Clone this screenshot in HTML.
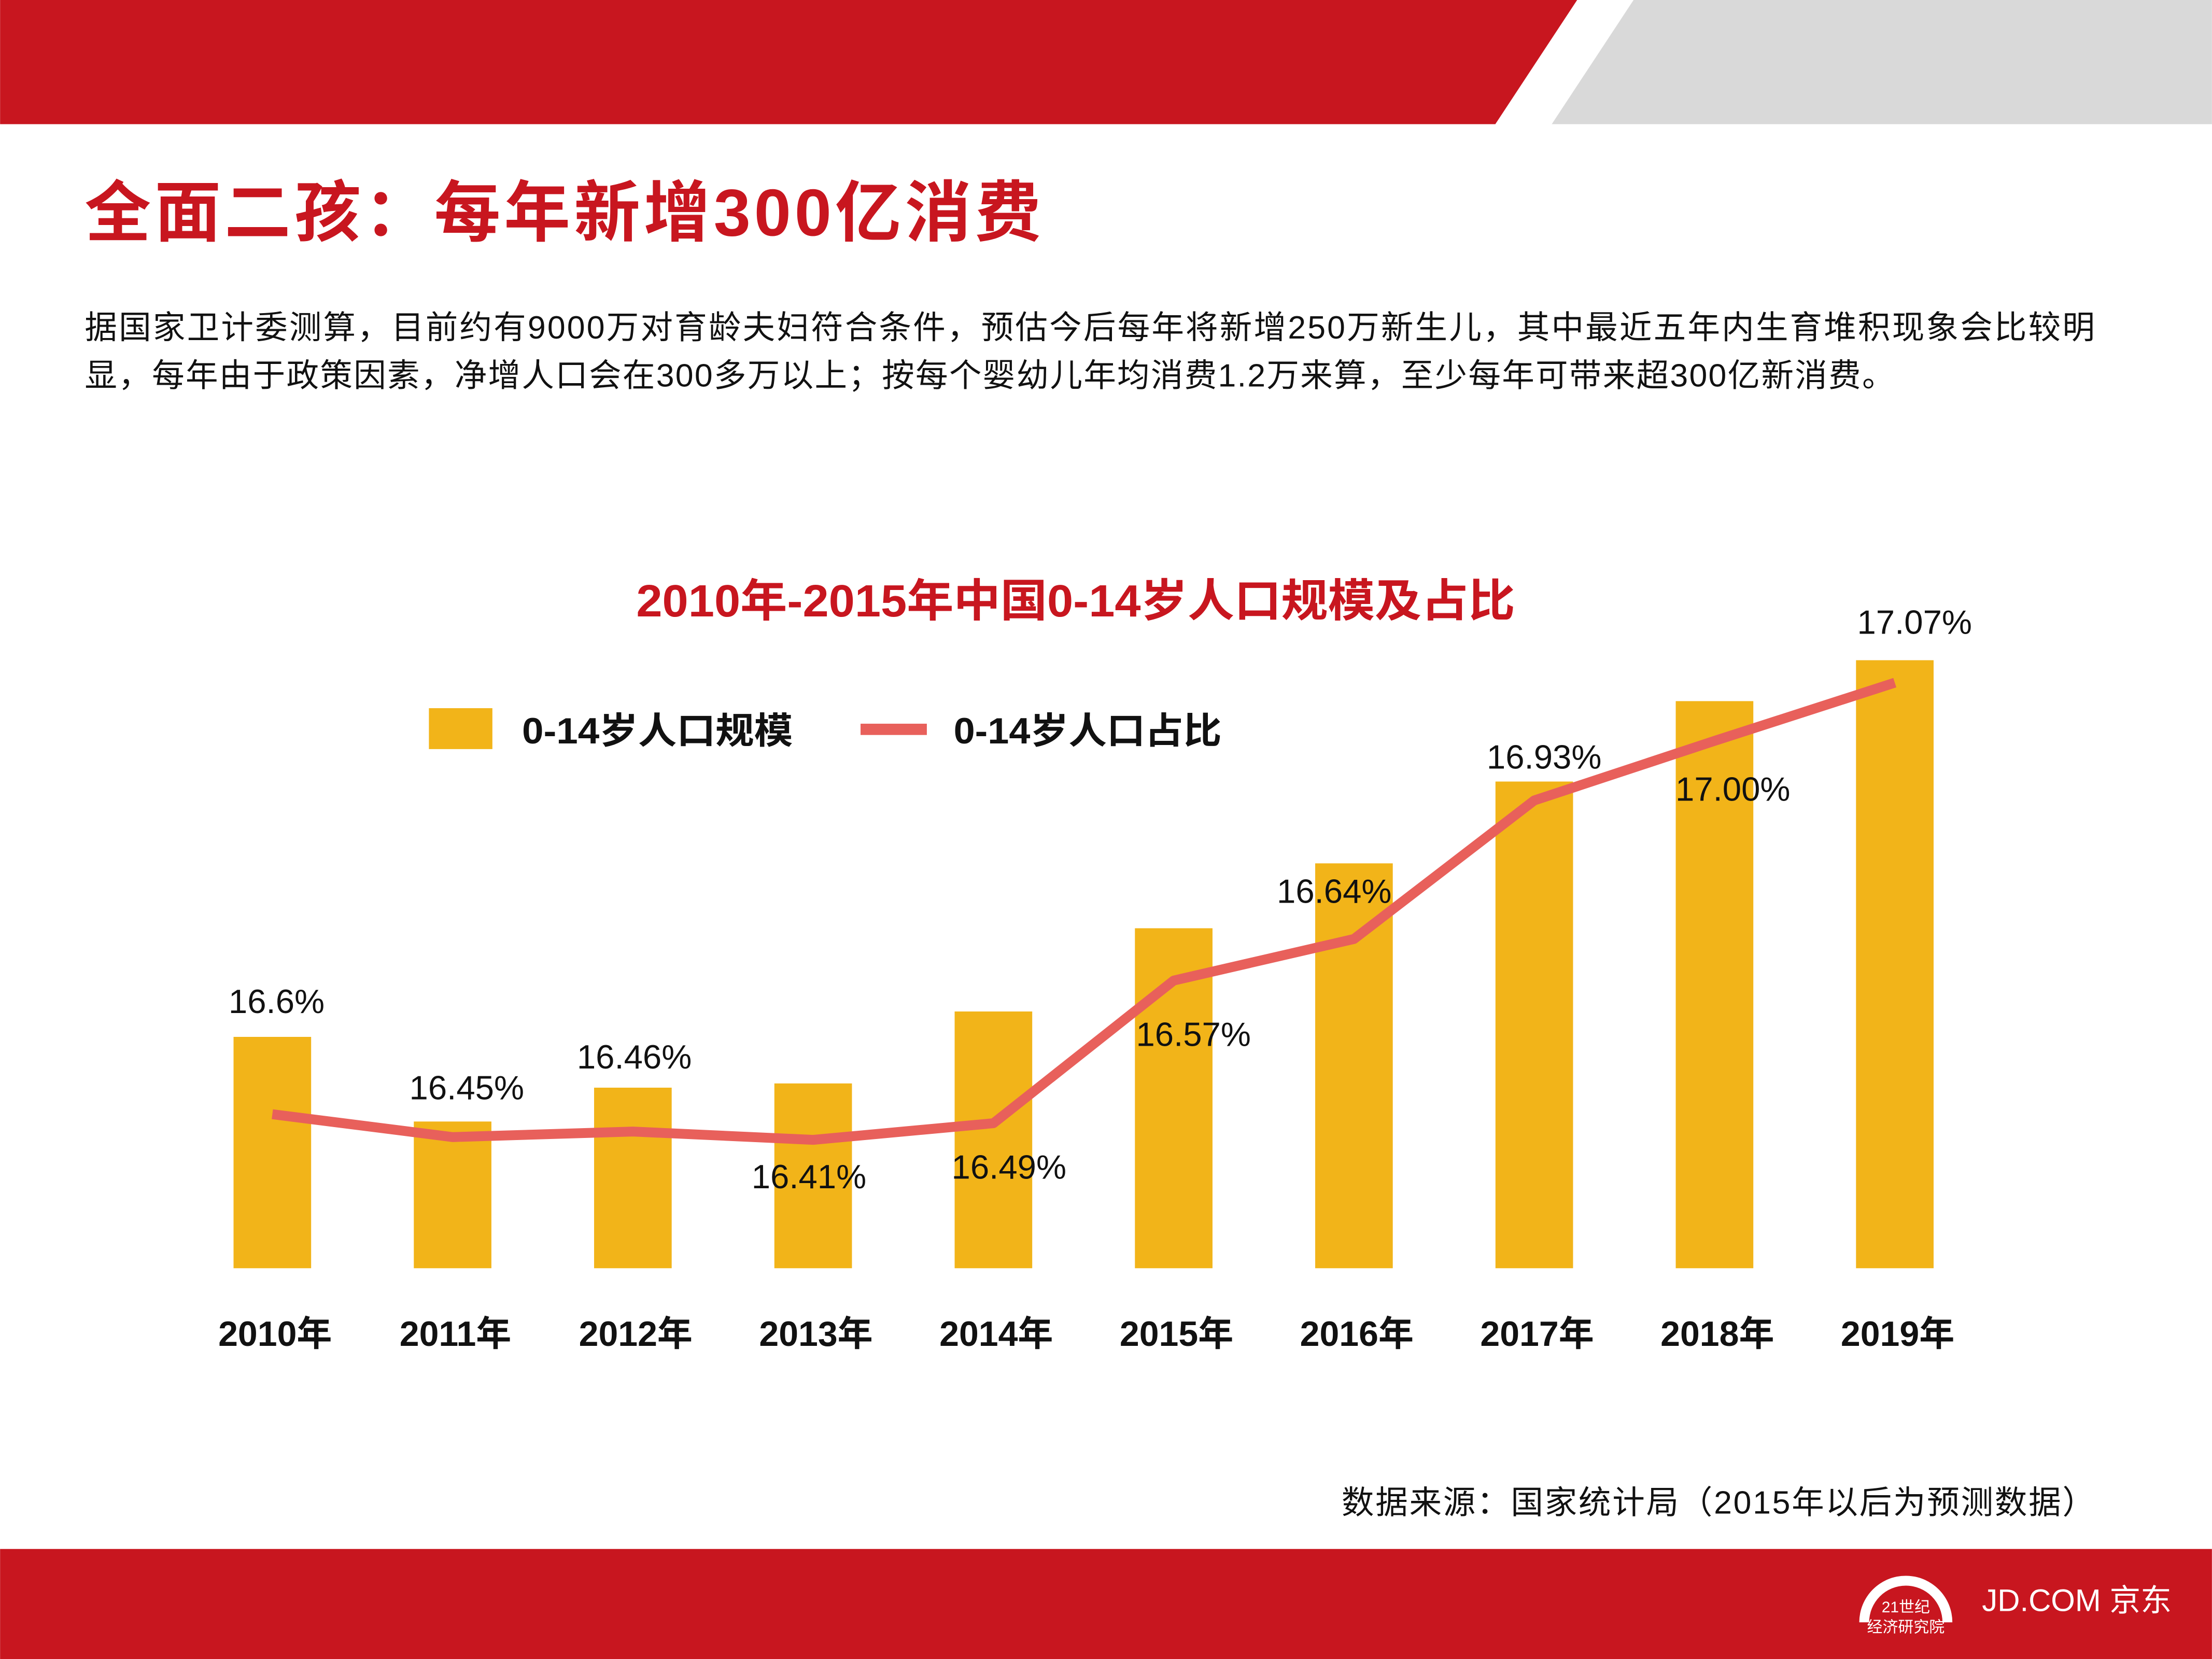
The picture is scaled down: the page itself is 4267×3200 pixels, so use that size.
<!DOCTYPE html>
<html><head><meta charset="utf-8"><style>
html,body{margin:0;padding:0;background:#fff}
svg{display:block}
text{font-family:"Liberation Sans","Noto Sans CJK SC",sans-serif}
</style></head><body>
<svg id="chart" width="4267" height="3200" viewBox="0 0 1568 1176" xmlns="http://www.w3.org/2000/svg">
<polygon points="0,0 1118,0 1060,88 0,88" fill="#c8161f"/>
<polygon points="1158,0 1568,0 1568,88 1100,88" fill="#d9d9d9"/>
<text x="60" y="167" font-size="47" font-weight="bold" fill="#c8161f" textLength="678" lengthAdjust="spacing">全面二孩：每年新增300亿消费</text>
<text x="60" y="240" font-size="23" fill="#111" textLength="1425" lengthAdjust="spacing">据国家卫计委测算，目前约有9000万对育龄夫妇符合条件，预估今后每年将新增250万新生儿，其中最近五年内生育堆积现象会比较明</text>
<text x="60" y="274" font-size="23" fill="#111" textLength="1283" lengthAdjust="spacing">显，每年由于政策因素，净增人口会在300多万以上；按每个婴幼儿年均消费1.2万来算，至少每年可带来超300亿新消费。</text>
<text x="451" y="437" font-size="32" font-weight="bold" fill="#c8161f" textLength="623" lengthAdjust="spacingAndGlyphs">2010年-2015年中国0-14岁人口规模及占比</text>
<rect x="304" y="502" width="45" height="29" fill="#f2b419"/>
<text x="370" y="527" font-size="26" font-weight="bold" fill="#111" textLength="192" lengthAdjust="spacingAndGlyphs">0-14岁人口规模</text>
<rect x="610" y="513" width="47" height="8" fill="#e8605b"/>
<text x="676" y="527" font-size="26" font-weight="bold" fill="#111" textLength="190" lengthAdjust="spacingAndGlyphs">0-14岁人口占比</text>
<g id="plot"></g>
<text x="951" y="1073" font-size="23" fill="#111" textLength="534" lengthAdjust="spacing">数据来源：国家统计局（2015年以后为预测数据）</text>
<rect x="0" y="1098" width="1568" height="78" fill="#c8161f"/>
<path d="M1318,1150 A33,33 0 0 1 1384,1150 L1377,1150 A26,26 0 0 0 1325,1150 Z" fill="#fff"/>
<text x="1351" y="1143" font-size="11" fill="#fff" text-anchor="middle" font-family="Liberation Serif,Noto Serif CJK SC,serif">21世纪</text>
<text x="1351" y="1157" font-size="11" fill="#fff" text-anchor="middle">经济研究院</text>
<text x="1405" y="1142" font-size="22" fill="#fff">JD.COM 京东</text>
</svg>
<script>
const years=["2010年","2011年","2012年","2013年","2014年","2015年","2016年","2017年","2018年","2019年"];
const popValues=[1.64,1.04,1.28,1.31,1.82,2.41,2.87,3.45,4.02,4.31];
const shareValues=[16.447,16.414,16.422,16.41,16.434,16.64,16.70,16.90,16.986,17.07];
const shareLabels=["16.6%","16.45%","16.46%","16.41%","16.49%","16.57%","16.64%","16.93%","17.00%","17.07%"];
const labelDx=[3,10,1,-3,11,14,-14,7,13,14];
const labelDy=[-78,-33,-51,28,33,40,-32,-29,36,-41];
const NS="http://www.w3.org/2000/svg";
const g=document.getElementById('plot');
const x=i=>193+i*127.8;
const yBar=v=>899-v*100;
const yLine=v=>808-(v-16.41)*491;
function mk(t,a){const e=document.createElementNS(NS,t);for(const k in a)e.setAttribute(k,a[k]);g.appendChild(e);return e;}
popValues.forEach((v,i)=>{
 const r=mk('rect',{x:x(i)-27.5,y:yBar(v),width:55,height:899-yBar(v),fill:'#f2b419'});
 
 
});
const pts=shareValues.map((v,i)=>x(i)+','+yLine(v)).join(' ');
const pl=mk('polyline',{points:pts,fill:'none',stroke:'#e8605b','stroke-width':7,'stroke-linejoin':'round'});


shareLabels.forEach((s,i)=>{
 const yy=yLine(shareValues[i])+labelDy[i];
 const t=mk('text',{x:x(i)+labelDx[i],y:yy,'font-size':24,fill:'#111','text-anchor':'middle','dominant-baseline':'middle'});
 t.textContent=s;
 
 
});
years.forEach((s,i)=>{
 const t=mk('text',{x:x(i)+2,y:954,'font-size':25,'font-weight':'bold',fill:'#111','text-anchor':'middle'});
 t.textContent=s;
 
 
});
</script>
</body></html>
